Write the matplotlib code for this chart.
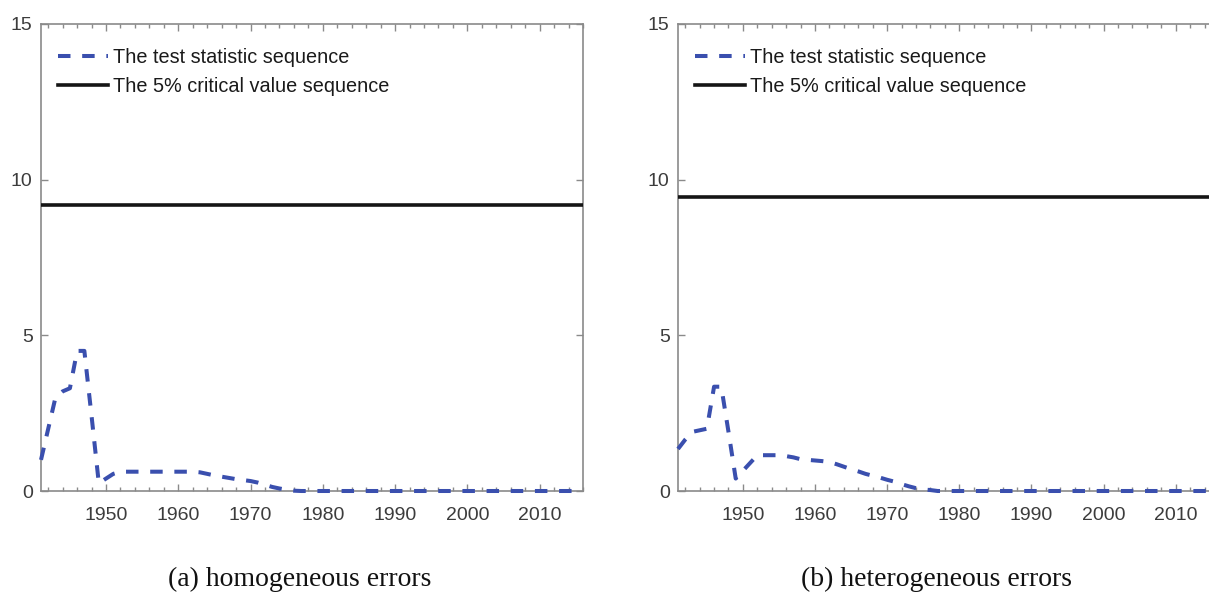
import matplotlib
matplotlib.use("Agg")
import matplotlib.pyplot as plt
import numpy as np

years = list(range(1941, 2017))

# test statistic, homogeneous errors (panel a)
stat_homo_head = [1.0, 2.0, 3.0, 3.2, 3.3, 4.5, 4.5, 2.4, 0.25, 0.4,
                  0.55, 0.62, 0.62, 0.62, 0.62, 0.62, 0.62, 0.62, 0.62, 0.62,
                  0.62, 0.62, 0.6, 0.55, 0.5, 0.46, 0.42, 0.38, 0.35, 0.32,
                  0.27, 0.2, 0.13, 0.08, 0.04, 0.01]
# test statistic, heterogeneous errors (panel b)
stat_hetero_head = [1.35, 1.65, 1.9, 1.95, 2.0, 3.35, 3.35, 1.9, 0.4, 0.65,
                    0.9, 1.15, 1.15, 1.15, 1.15, 1.12, 1.08, 1.02, 1.0, 0.98,
                    0.96, 0.93, 0.86, 0.78, 0.7, 0.63, 0.55, 0.49, 0.43, 0.36,
                    0.3, 0.22, 0.15, 0.09, 0.05, 0.03]
stat_homo = stat_homo_head + [0.0] * (len(years) - len(stat_homo_head))
stat_hetero = stat_hetero_head + [0.0] * (len(years) - len(stat_hetero_head))

crit_homo = 9.18
crit_hetero = 9.43

legend_labels = ["The test statistic sequence", "The 5% critical value sequence"]
captions = ["(a) homogeneous errors", "(b) heterogeneous errors"]
yticks = [0, 5, 10, 15]
xticks = [1950, 1960, 1970, 1980, 1990, 2000, 2010]

W, H = 1209, 594
fig = plt.figure(figsize=(W / 100, H / 100), dpi=100)
plt.rcParams['font.family'] = ['Liberation Sans', 'DejaVu Sans']

blue = '#3a4fae'
spine_c = '#8a8a8a'
tick_c = '#3c3c3c'

def px_axes(x0, x1, ytop, ybot):
    return fig.add_axes([x0 / W, 1 - ybot / H, (x1 - x0) / W, (ybot - ytop) / H])

ax1 = px_axes(41, 583, 24, 491)
ax2 = px_axes(678, 1219, 24, 491)

for ax, stat, crit in [(ax1, stat_homo, crit_homo), (ax2, stat_hetero, crit_hetero)]:
    for s in ax.spines.values():
        s.set_color(spine_c)
        s.set_linewidth(1.2)
        s.set_zorder(1)
    l1, = ax.plot(years, stat, color=blue, lw=2.9, dashes=(3.1, 2.9),
                  solid_capstyle='butt', dash_capstyle='butt', clip_on=False,
                  zorder=3)
    l2, = ax.plot(years, [crit] * len(years), color='#151515', lw=2.6)
    ax.set_xlim(1941, 2016)
    ax.set_ylim(0, 15)
    ax.set_xticks(xticks)
    ax.set_xticks(np.arange(1942, 2017, 2), minor=True)
    ax.set_yticks(yticks)
    ax.tick_params(which='both', direction='in', top=True, right=True,
                   colors=spine_c, labelcolor=tick_c, labelsize=14, width=1)
    ax.tick_params(which='major', length=5)
    ax.tick_params(which='minor', length=3)
    ax.tick_params(axis='x', which='major', pad=11.5)
    ax.tick_params(axis='y', which='major', pad=6)
    leg = ax.legend([l1, l2], legend_labels, loc='upper left',
                    bbox_to_anchor=(17 / 542, 0.948), frameon=False,
                    fontsize=14.3, handlelength=2.5, handletextpad=0.25,
                    borderpad=0, borderaxespad=0, labelspacing=0.5)
    for t in leg.get_texts():
        t.set_color('#1a1a1a')

fig.text(300 / W, 1 - 579 / H, captions[0], ha='center', va='center',
         fontsize=20, family=['Liberation Serif', 'DejaVu Serif'], color='#111111')
fig.text(936.5 / W, 1 - 579 / H, captions[1], ha='center', va='center',
         fontsize=20, family=['Liberation Serif', 'DejaVu Serif'], color='#111111')

fig.savefig('out.png', dpi=100)
